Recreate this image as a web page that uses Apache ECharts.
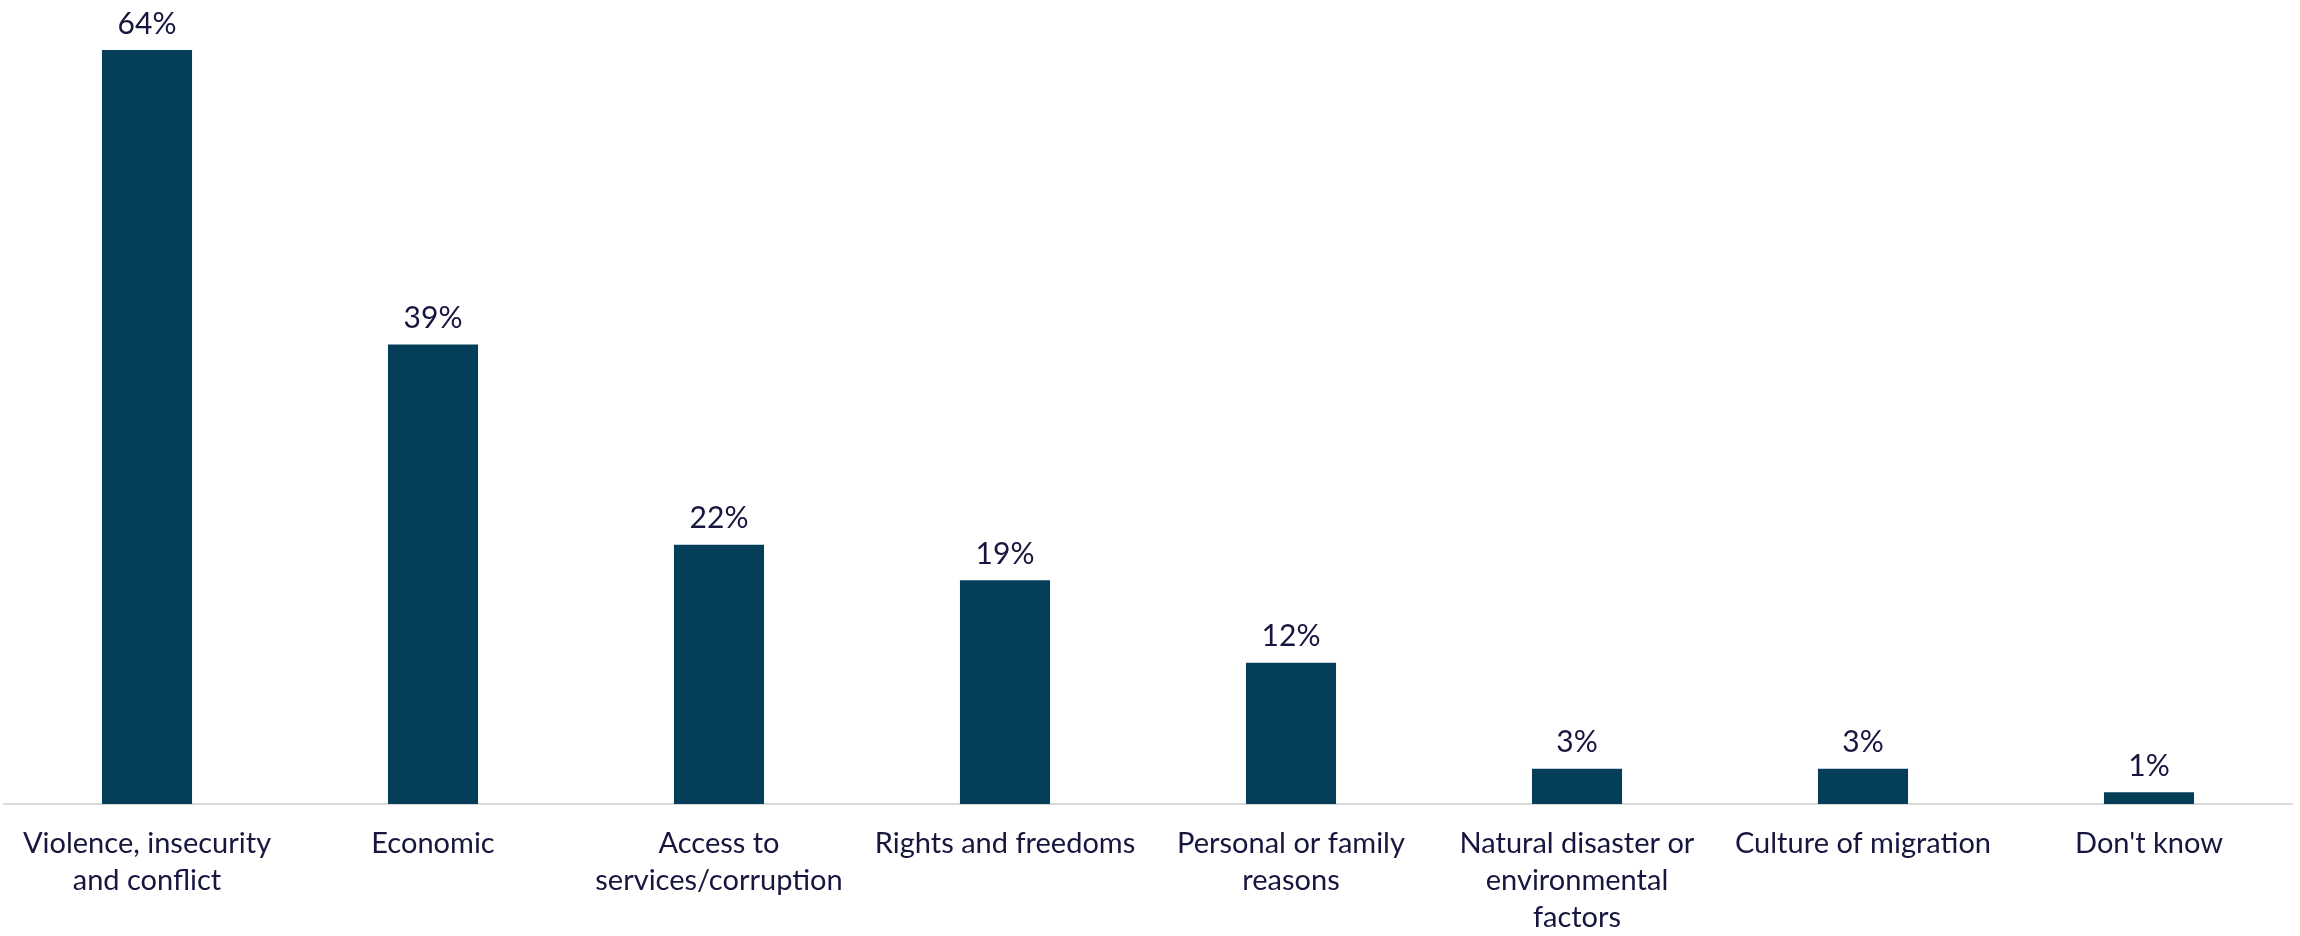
<!DOCTYPE html>
<html lang="en">
<head>
    <meta charset="UTF-8">
    <title>Reasons for leaving</title>
    <script src="https://cdn.jsdelivr.net/npm/echarts@6/dist/echarts.min.js"></script>
    <style>
        html, body { margin: 0; padding: 0; background: #ffffff; }
        #main { width: 2300px; height: 936px; }
    </style>
</head>
<body>
<div id="main"></div>
<script>
    // categories (line breaks as in the original)
    var categories = [
        'Violence, insecurity\nand conflict',
        'Economic',
        'Access to\nservices/corruption',
        'Rights and freedoms',
        'Personal or family\nreasons',
        'Natural disaster or\nenvironmental\nfactors',
        'Culture of migration',
        "Don't know"
    ];
    // share of respondents, %
    var values = [64, 39, 22, 19, 12, 3, 3, 1];

    var textColor = '#16163f';
    var barColor = '#043e59';

    var myChart = echarts.init(document.getElementById('main'));
    var option = {
        animation: false,
        grid: {
            left: 4,
            right: 8,
            top: 50,
            bottom: 120,
            containLabel: false
        },
        xAxis: {
            type: 'category',
            data: categories,
            axisLine: { lineStyle: { color: '#d9d9d9', width: 2 } },
            axisTick: { show: false },
            axisLabel: {
                interval: 0,
                color: textColor,
                fontFamily: 'Lato',
                fontSize: 29,
                lineHeight: 37,
                margin: 21
            }
        },
        yAxis: {
            type: 'value',
            min: 0,
            max: 64,
            show: false,
            splitLine: { show: false }
        },
        series: [{
            type: 'bar',
            data: values,
            barWidth: '31.5%',
            itemStyle: { color: barColor },
            label: {
                show: true,
                position: 'top',
                distance: 11,
                formatter: '{c}%',
                color: textColor,
                fontFamily: 'Lato',
                fontSize: 30
            }
        }]
    };
    myChart.setOption(option);
</script>
</body>
</html>
